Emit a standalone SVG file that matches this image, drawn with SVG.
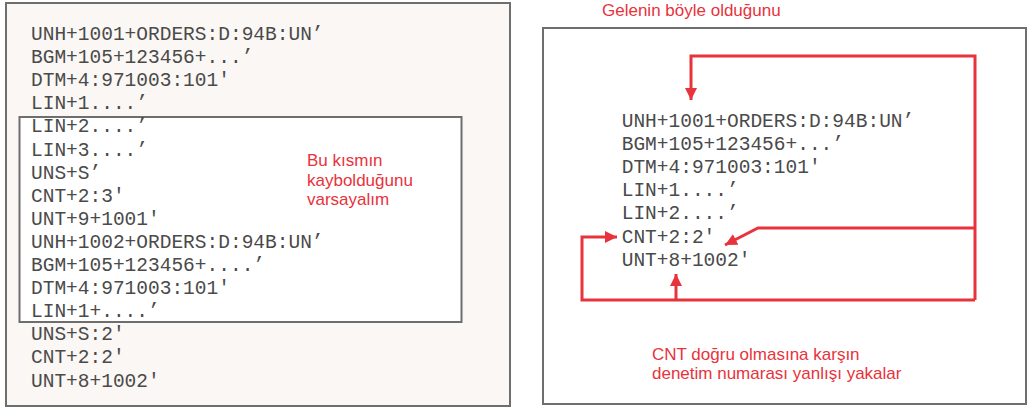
<svg xmlns="http://www.w3.org/2000/svg" width="1028" height="408" viewBox="0 0 1028 408">
  <style>
    .panel { stroke: #6e6e6e; stroke-width: 2; }
    .code { font-family: "Liberation Mono", "Courier New", monospace; font-size: 19.5px; fill: #4a4a4a; }
    .note { font-family: "Liberation Sans", Arial, sans-serif; font-size: 17px; fill: #e8323c; }
    .wire { fill: none; stroke: #e8323c; stroke-width: 3; stroke-linejoin: miter; }
  </style>
  <defs>
    <marker id="head" viewBox="0 0 12 12" markerWidth="12" markerHeight="12" markerUnits="userSpaceOnUse" refX="12" refY="6" orient="auto">
      <path d="M0,0 L12,6 L0,12 z" fill="#e8323c"/>
    </marker>
  </defs>

  <!-- Left: sent interchange with a lost middle section -->
  <g id="sent-stream">
    <rect class="panel" x="6" y="3" width="504" height="403" fill="#faf7f4"/>
    <rect class="panel" x="19.5" y="117" width="442" height="205" fill="#ffffff"/>
    <text class="code" x="31" y="40">UNH+1001+ORDERS:D:94B:UN’</text>
    <text class="code" x="31" y="63.1">BGM+105+123456+...’</text>
    <text class="code" x="31" y="86.2">DTM+4:971003:101'</text>
    <text class="code" x="31" y="109.3">LIN+1....’</text>
    <text class="code" x="31" y="132.4">LIN+2....’</text>
    <text class="code" x="31" y="155.5">LIN+3....’</text>
    <text class="code" x="31" y="178.6">UNS+S’</text>
    <text class="code" x="31" y="201.7">CNT+2:3'</text>
    <text class="code" x="31" y="224.8">UNT+9+1001'</text>
    <text class="code" x="31" y="247.9">UNH+1002+ORDERS:D:94B:UN’</text>
    <text class="code" x="31" y="271">BGM+105+123456+....’</text>
    <text class="code" x="31" y="294.1">DTM+4:971003:101'</text>
    <text class="code" x="31" y="317.2">LIN+1+....’</text>
    <text class="code" x="31" y="340.3">UNS+S:2'</text>
    <text class="code" x="31" y="363.4">CNT+2:2'</text>
    <text class="code" x="31" y="386.5">UNT+8+1002'</text>
  </g>

  <g id="lost-note">
    <text class="note" x="307" y="166">Bu kısmın</text>
    <text class="note" x="307" y="185.5">kaybolduğunu</text>
    <text class="note" x="307" y="205">varsayalım</text>
  </g>

  <!-- Right: what the receiver sees -->
  <g id="received-title">
    <text class="note" x="602" y="16">Gelenin böyle olduğunu</text>
  </g>

  <g id="received-stream">
    <rect class="panel" x="543" y="28" width="483" height="376" fill="#ffffff"/>
    <text class="code" x="621.7" y="127">UNH+1001+ORDERS:D:94B:UN’</text>
    <text class="code" x="621.7" y="150.1">BGM+105+123456+...’</text>
    <text class="code" x="621.7" y="173.2">DTM+4:971003:101'</text>
    <text class="code" x="621.7" y="196.3">LIN+1....’</text>
    <text class="code" x="621.7" y="219.4">LIN+2....’</text>
    <text class="code" x="621.7" y="242.5">CNT+2:2'</text>
    <text class="code" x="621.7" y="265.6">UNT+8+1002'</text>
  </g>

  <g id="received-note">
    <text class="note" x="652" y="360">CNT doğru olmasına karşın</text>
    <text class="note" x="652" y="379">denetim numarası yanlışı yakalar</text>
  </g>

  <g id="connectors">
    <path class="wire" d="M975,300 L975,56 L691,56 L691,100" marker-end="url(#head)"/>
    <path class="wire" d="M975,300 L582,300 L582,237 L617,237" marker-end="url(#head)"/>
    <path class="wire" d="M676,300 L676,274" marker-end="url(#head)"/>
    <path class="wire" d="M975,228 L758,228 L725,245" marker-end="url(#head)"/>
  </g>
</svg>
